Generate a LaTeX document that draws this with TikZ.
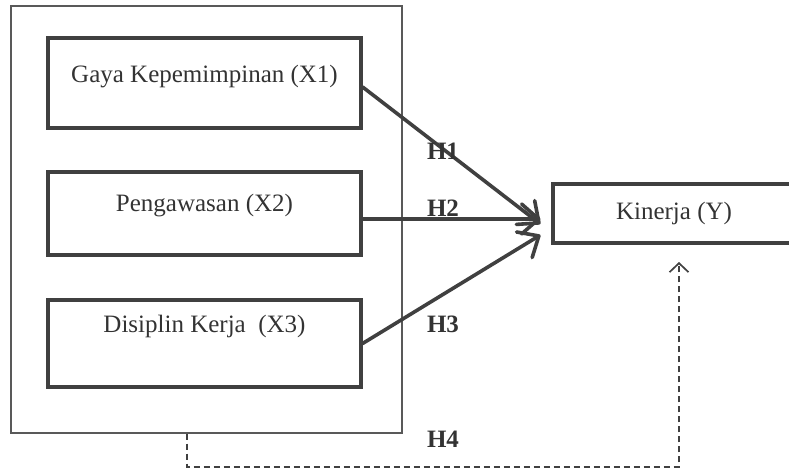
\documentclass[tikz,border=0pt]{standalone}
\usepackage{fontspec}
\setmainfont{Liberation Serif}
\usetikzlibrary{arrows.meta}

\begin{document}
\begin{tikzpicture}[x=1pt, y=-1pt,  % one unit is one pixel, y going down
    every node/.style={font=\fontsize{25}{30}\selectfont, text=black!80},
    varbox/.style={draw=black!75, line width=3.2pt, inner sep=0pt, anchor=base, minimum width=313pt},
    arr/.style={draw=black!75, line width=3.6pt, line cap=round,
        -{Straight Barb[length=17pt, width=30pt, line cap=round, line join=round]}},
    hyp/.style={font=\bfseries\fontsize{25}{30}\selectfont}]
    \useasboundingbox (0,0) rectangle (789,470);
    \clip (0,0) rectangle (789,470);

    % Outer frame round the independent variables
    \node[draw=black!65, line width=1.2pt, minimum width=391pt, minimum height=427pt, inner sep=0pt] (grp) at (206.5,219.5) {};

    % Independent variables
    \node[varbox, text height=45pt, text depth=45pt] (x1) at (204.5,83) {Gaya Kepemimpinan (X1)};
    \node[varbox, text height=40pt, text depth=43pt] (x2) at (204.5,212) {Pengawasan (X2)};
    \node[varbox, text height=32pt, text depth=55pt] (x3) at (204.5,332) {Disiplin Kerja\ \ (X3)};

    % Dependent variable (runs past the right edge)
    \node[varbox, minimum width=242pt, text height=36pt, text depth=23pt] (kin) at (674,220) {Kinerja (Y)};

    % Hypotheses H1, H2 and H3
    \draw[arr] ([yshift=-4pt]x1.east) -- ([xshift=-11pt, yshift=-10.5pt]kin.west);
    \draw[arr] ([yshift=-5.5pt]x2.east) -- ([xshift=-11pt, yshift=-5.5pt]kin.west);
    \draw[arr] (x3.east) -- ([xshift=-11pt, yshift=-21.5pt]kin.west);

    \node[hyp, anchor=base] (h1) at (443,160) {H1};
    \node[hyp, anchor=base] (h2) at (443,217) {H2};
    \node[hyp, anchor=base] (h3) at (443,332) {H3};
    \node[hyp, anchor=base] (h4) at (443,447) {H4};

    % Simultaneous effect H4
    \coordinate (d1) at (187,467);
    \coordinate (d2) at (679,467);
    \coordinate (tip) at (679,262);
    \draw[black!75, line width=1.7pt, dash pattern=on 6pt off 4pt,
        -{Straight Barb[length=9pt, width=19pt]}]
        (grp.south -| d1) -- (d1) -- (d2) -- (tip);
\end{tikzpicture}
\end{document}
